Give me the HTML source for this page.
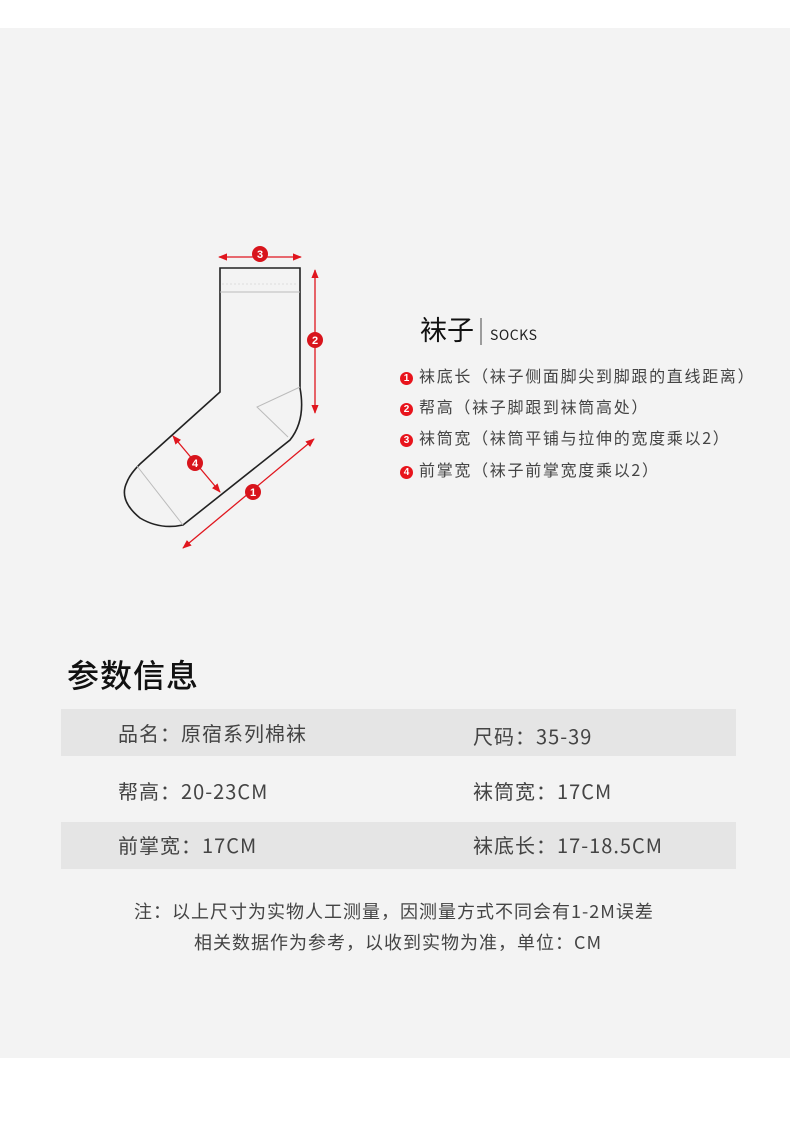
<!DOCTYPE html>
<html><head><meta charset="utf-8"><style>
body{margin:0;width:790px;height:1141px;background:#fff;position:relative;overflow:hidden;font-family:"Noto Sans CJK SC","Liberation Sans",sans-serif;}
.bg{position:absolute;left:0;top:28px;width:790px;height:1030px;background:#f3f3f3;}
.t{position:absolute;white-space:nowrap;color:#444;line-height:1.2;}
.row{position:absolute;left:61px;width:675px;height:47px;background:#e5e5e5;}
.lg{letter-spacing:1.7px;font-size:16px;}
.tb{letter-spacing:1px;}
.num{display:inline-block;width:13px;height:13px;border-radius:50%;background:#e8141c;color:#fff;font-size:10px;font-weight:bold;text-align:center;line-height:13px;vertical-align:1px;margin-right:6px;letter-spacing:0;font-family:"Liberation Sans",sans-serif;}
</style></head><body>
<div class="bg"></div>
<svg style="position:absolute;left:0;top:0" width="790" height="1141">
<defs><marker id="a" viewBox="0 0 10 10" refX="9" refY="5" markerWidth="7" markerHeight="7" orient="auto-start-reverse"><path d="M0,1 L10,5 L0,9 z" fill="#e0161e"/></marker></defs>
<path d="M220,268 L300,268 L300,388 Q306,420 290,440 L183,525 Q160,530 140,518 Q118,500 127,482 Q130,474 140,464 L220,392 Z" fill="#f3f3f3" stroke="#222" stroke-width="1.6"/>
<line x1="220" y1="292" x2="300" y2="292" stroke="#bbb" stroke-width="1"/>
<line x1="222" y1="284" x2="298" y2="284" stroke="#ddd" stroke-width="1" stroke-dasharray="2,2"/>
<polyline points="300,387 257,407 288,437" fill="none" stroke="#bbb" stroke-width="1"/>
<line x1="137" y1="466" x2="183" y2="525" stroke="#bbb" stroke-width="1"/>
<g stroke="#e0161e" stroke-width="1.3">
<line x1="219" y1="257" x2="301" y2="257" marker-start="url(#a)" marker-end="url(#a)"/>
<line x1="315" y1="270" x2="315" y2="413" marker-start="url(#a)" marker-end="url(#a)"/>
<line x1="183" y1="548" x2="314" y2="439" marker-start="url(#a)" marker-end="url(#a)"/>
<line x1="173" y1="436" x2="220" y2="492" marker-start="url(#a)" marker-end="url(#a)"/>
</g>
<g fill="#d8141c"><circle cx="260" cy="254" r="8"/><circle cx="315" cy="340" r="8"/><circle cx="253" cy="492" r="8"/><circle cx="195" cy="463" r="8"/></g>
<g fill="#fff" font-size="11" font-weight="bold" text-anchor="middle" font-family="Liberation Sans,sans-serif">
<text x="260" y="258">3</text><text x="315" y="344">2</text><text x="253" y="496">1</text><text x="195" y="467">4</text></g>
<line x1="481" y1="318" x2="481" y2="345" stroke="#444" stroke-width="1"/>
</svg>
<div class="t" style="left:420px;top:313px;font-size:27px;color:#111;">袜子</div>
<div class="t" style="left:490px;top:327px;font-size:14px;color:#222;letter-spacing:0.5px;">SOCKS</div>
<div class="t lg" style="left:400px;top:366px;"><span class="num">1</span>袜底长（袜子侧面脚尖到脚跟的直线距离）</div>
<div class="t lg" style="left:400px;top:397px;"><span class="num">2</span>帮高（袜子脚跟到袜筒高处）</div>
<div class="t lg" style="left:400px;top:428px;"><span class="num">3</span>袜筒宽（袜筒平铺与拉伸的宽度乘以2）</div>
<div class="t lg" style="left:400px;top:460px;"><span class="num">4</span>前掌宽（袜子前掌宽度乘以2）</div>
<div class="t" style="left:67px;top:655px;font-size:32px;color:#111;font-weight:500;letter-spacing:1px;">参数信息</div>
<div class="row" style="top:709px;"></div>
<div class="row" style="top:822px;"></div>
<div class="t tb" style="left:118px;top:721px;font-size:20px;">品名：原宿系列棉袜</div>
<div class="t tb" style="left:473px;top:724px;font-size:20px;">尺码：35-39</div>
<div class="t tb" style="left:118px;top:779px;font-size:20px;">帮高：20-23CM</div>
<div class="t tb" style="left:473px;top:779px;font-size:20px;">袜筒宽：17CM</div>
<div class="t tb" style="left:118px;top:833px;font-size:20px;">前掌宽：17CM</div>
<div class="t tb" style="left:473px;top:833px;font-size:20px;">袜底长：17-18.5CM</div>
<div class="t tb" style="left:134px;top:901px;font-size:18px;">注：以上尺寸为实物人工测量，因测量方式不同会有1-2M误差</div>
<div class="t tb" style="left:194px;top:932px;font-size:18px;">相关数据作为参考，以收到实物为准，单位：CM</div>
</body></html>
